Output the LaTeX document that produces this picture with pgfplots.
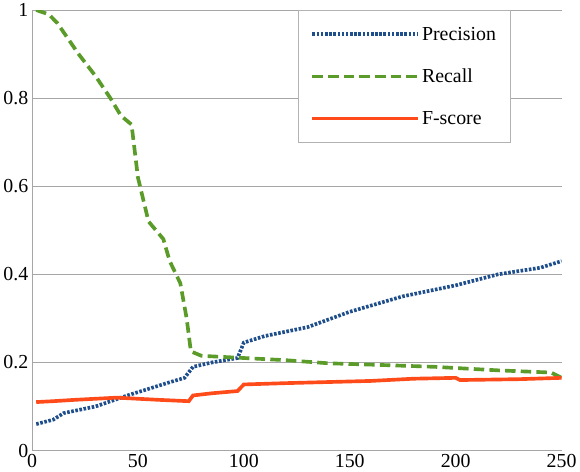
\documentclass[border=0pt]{standalone}
\usepackage{pgfplots}
\pgfplotsset{compat=1.18}
\usepackage{fontspec}
\setmainfont{Liberation Serif}
\definecolor{cp}{HTML}{1F4E8C}
\definecolor{cr}{HTML}{5B9B2A}
\definecolor{cf}{HTML}{FF4A1A}
\begin{document}
\begin{tikzpicture}[font=\fontsize{19}{22}\selectfont]
\begin{axis}[scale only axis, width=505bp, height=420bp,
  xmin=0, xmax=250, ymin=0, ymax=1,
  xtick={0,50,100,150,200,250}, ytick={0,0.2,0.4,0.6,0.8,1},
  yticklabels={0,0.2,0.4,0.6,0.8,1},
  /pgf/number format/assume math mode=true,
  ymajorgrids, grid style={gray!70},
  axis line style={gray!70}, tick style={draw=none},
  axis x line*=bottom, axis y line*=left,
  ticklabel style={font=\fontsize{19}{22}\selectfont},
  legend style={at={(0.502,1)}, anchor=north west, draw=gray!60, font=\fontsize{19}{22}\selectfont,
    inner xsep=12pt, inner ysep=14pt, row sep=22pt, legend cell align=left},
  legend image code/.code={\draw[#1] (0,0) -- (1.4in,0);},
]
\addplot[cp, line width=3.5pt, dash pattern=on 2.5pt off 1.5pt] coordinates {(2,0.06)(10,0.07)(15,0.085)(30,0.1)(45,0.125)(55,0.14)(65,0.155)(72,0.165)(76,0.19)(85,0.2)(97,0.21)(100,0.245)(110,0.26)(130,0.28)(150,0.315)(175,0.35)(200,0.375)(220,0.4)(240,0.415)(250,0.43)};
\addlegendentry{Precision}
\addplot[cr, line width=3.5pt, dash pattern=on 10pt off 5pt] coordinates {(2,1.0)(8,0.99)(12,0.97)(22,0.9)(30,0.85)(37,0.8)(42,0.76)(47,0.74)(50,0.62)(55,0.52)(62,0.48)(65,0.43)(70,0.38)(73,0.3)(75,0.225)(80,0.215)(100,0.21)(120,0.205)(140,0.198)(160,0.195)(190,0.19)(220,0.182)(245,0.177)(250,0.165)};
\addlegendentry{Recall}
\addplot[cf, line width=3.5pt] coordinates {(2,0.11)(10,0.112)(20,0.115)(40,0.12)(60,0.115)(74,0.112)(76,0.125)(85,0.13)(97,0.135)(100,0.15)(120,0.153)(160,0.158)(180,0.163)(200,0.165)(202,0.16)(230,0.162)(250,0.165)};
\addlegendentry{F-score}
\end{axis}
\end{tikzpicture}
\end{document}
